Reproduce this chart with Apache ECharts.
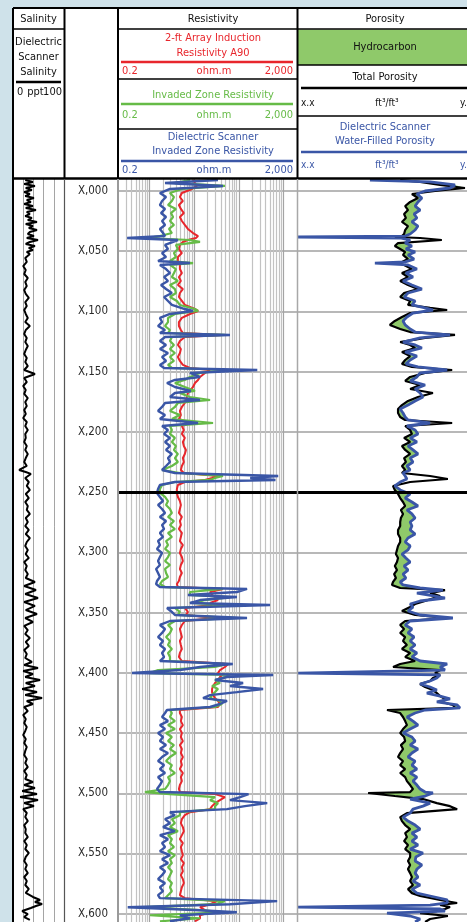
<!DOCTYPE html>
<html><head><meta charset="utf-8">
<script src="https://cdn.jsdelivr.net/npm/echarts@6/dist/echarts.min.js"></script>
<style>
html,body{margin:0;padding:0;background:#cfe2ea;overflow:hidden;}
#panel{position:absolute;left:13px;top:8px;width:454px;height:914px;background:#fff;}
#chart{position:absolute;left:0;top:0;width:467px;height:922px;}
</style></head><body>
<div id="panel"></div><div id="chart"></div>
<script>
const FONT = '"Liberation Sans Narrow","DejaVu Sans Condensed","Arial Narrow",sans-serif';

// ---------------- DATA ----------------
// Depth axis tick labels every 50 ft
const depthTickStep = 50;

// Resistivity track grid line values (log grid)
const resGridLines = [0.3,0.4,0.5,0.6,0.7,0.8,0.9,1,2,3,4,5,6,7,8,9,10,20,30,40,50,60,70,80,90,100,200,300,400,500,600,700,800,900,1000];

// Resistivity curves (ohm.m) sampled at resDepth (ft below X,000)
const resDepth = [-9.1,-6.6,-4.2,-1.7,1.7,5.0,8.3,11.6,14.9,18.3,
21.6,24.9,28.2,31.5,34.9,37.4,39.0,40.7,42.3,44.8,
48.2,51.5,54.8,58.1,59.8,61.4,64.8,68.1,71.4,74.7,
78.0,81.4,84.7,88.0,91.3,94.6,98.0,99.6,102.1,105.4,
108.8,112.1,115.4,117.9,119.5,121.2,124.5,127.8,131.2,134.5,
137.8,141.1,144.4,146.9,148.6,151.1,154.4,156.9,159.4,162.7,
166.0,167.7,171.0,173.5,176.0,179.3,182.6,186.0,189.3,192.6,
195.1,198.4,201.7,205.0,208.4,211.7,215.0,218.3,221.7,225.0,
228.3,231.6,234.1,236.6,238.3,239.9,241.6,244.1,247.4,250.7,
254.0,257.4,260.7,264.0,267.3,270.6,274.0,277.3,280.6,283.9,
287.2,290.6,293.9,297.2,300.5,303.9,307.2,310.5,313.8,317.1,
320.5,323.8,326.3,328.8,330.4,332.9,335.4,337.1,339.6,342.1,
343.7,346.2,349.5,352.0,354.5,357.0,360.3,363.6,366.9,370.3,
373.6,376.9,380.2,383.5,386.9,390.2,392.7,395.2,397.7,400.2,
401.8,403.5,406.0,408.5,411.0,413.5,416.0,418.5,421.0,423.4,
425.9,428.4,430.9,433.4,436.7,440.1,443.4,446.7,450.0,453.3,
456.7,460.0,463.3,466.6,469.9,473.3,476.6,479.9,483.2,486.6,
489.9,493.2,496.5,499.0,500.7,503.2,505.7,508.2,510.7,513.2,
515.7,518.2,521.5,524.8,528.1,531.5,534.8,538.1,541.4,544.7,
548.1,551.4,554.7,558.0,561.4,564.7,568.0,571.3,574.6,578.0,
581.3,584.6,587.1,589.6,592.1,594.6,597.1,598.8,601.3,603.8,
606.3];

const resDielectric = [34.3,2.25,44.4,2.9,1.73,2.37,1.93,1.73,2.25,1.83,
2.37,1.93,2.25,1.73,2.03,2.25,0.32,4.36,4.83,2.25,
2.62,1.93,2.37,1.57,8.1,1.73,2.37,2.9,2.14,2.62,
1.83,2.37,3.2,2.14,2.62,3.2,6.23,9.5,2.9,1.73,
1.93,1.57,2.25,1.73,63.6,2.25,1.73,2.37,1.73,2.62,
1.93,2.37,1.73,2.14,259,8.1,13.6,3.74,2.49,3.74,
8.5,3.74,2.9,13.6,2.25,1.93,1.57,2.25,1.73,12.3,
1.93,2.62,2.14,2.9,2.25,2.9,2.37,3.2,2.62,2.9,
2.37,1.93,3.74,760,180,660,3.74,1.73,1.57,1.49,
1.73,2.03,1.57,1.93,2.25,1.73,2.37,1.93,2.14,1.73,
2.03,1.57,1.73,1.49,1.93,1.73,1.57,1.73,1.42,1.57,
1.73,1.49,1.42,1.73,153,90.8,7.3,90.8,13.6,8.1,
500,2.49,3.2,3.74,153,2.9,1.73,2.25,1.93,1.57,
2.03,1.73,2.25,1.93,2.14,1.73,73.5,13.6,4.83,0.41,
585,54.6,29.5,125,63.6,350,90.8,22.8,15.9,54.6,
38,22.8,2.49,2.25,1.93,2.62,1.73,2.25,1.57,2.03,
1.73,2.37,1.73,2.62,1.93,1.57,2.14,1.73,2.25,1.57,
1.93,1.73,1.49,1.73,165,107,63.6,432,137,54.6,
2.9,3.74,2.25,2.9,2.03,3.74,1.73,2.62,1.93,2.25,
1.73,2.9,1.93,2.62,1.73,2.25,1.93,1.57,2.25,1.73,
2.03,1.57,1.73,720,63.6,0.33,13.6,90.8,4.83,8.1,
2.9];

const resInvaded = [8.1,3.74,49,5.35,2.9,3.56,3.2,2.62,3.94,3.05,
3.4,2.9,3.56,2.76,3.2,1.73,0.89,8.1,13.6,3.94,
4.36,3.56,3.94,2.9,9.5,2.9,3.94,3.56,3.2,4.36,
2.9,3.74,3.94,2.9,4.14,4.83,10.5,12.3,3.74,2.62,
2.62,2.25,2.9,2.62,49,3.2,2.9,3.56,2.9,3.74,
2.9,3.56,2.62,3.2,54.6,13.6,8.1,6.23,3.74,6.23,
10.5,4.83,8.1,22.8,4.36,3.74,2.9,4.83,3.2,26.6,
2.9,3.2,2.9,3.74,3.2,3.94,3.56,4.36,3.74,4.36,
3.2,1.93,4.83,44.4,29.5,22.8,3.74,1.93,1.73,1.73,
2.25,2.62,2.37,2.9,3.2,2.62,3.56,2.9,3.74,2.62,
3.2,2.37,2.62,2.25,2.9,2.62,2.25,2.9,2.25,2.37,
2.62,1.93,1.73,2.25,44.4,8.1,8.1,63.6,17.6,10.5,
63.6,3.74,4.83,4.36,90.8,3.74,2.62,3.2,2.9,2.37,
2.9,2.62,3.2,2.62,2.9,2.9,54.6,29.5,1.57,1.04,
63.6,49,29.5,38,25.3,34.3,29.5,25.3,22.8,38,
42,29.5,2.9,3.2,2.9,3.74,2.62,3.74,2.37,3.2,
2.62,3.56,2.9,3.94,2.9,2.37,3.2,2.9,3.74,2.62,
2.9,2.62,2.25,0.8,2.9,29.5,22.8,34.3,29.5,29.5,
4.83,4.83,3.2,3.74,2.9,4.36,2.62,3.2,2.9,3.56,
2.62,3.74,2.9,3.2,2.62,3.2,2.9,2.62,3.2,2.9,
3.2,2.62,2.25,49,29.5,0.8,13.6,49,1.04,13.6,
1.73];

const resA90 = [9.5,10.5,11.6,9.0,5.35,4.83,5.63,4.59,5.08,5.92,
4.83,5.35,6.23,7.3,9.5,12.3,11,7.3,5.63,4.83,
4.59,5.35,4.36,4.36,4.83,4.59,4.83,5.35,4.59,5.08,
4.36,5.63,4.83,4.59,5.35,6.23,10.5,12.3,8.1,5.35,
4.59,4.59,5.08,5.63,42,6.23,4.83,4.36,5.08,4.83,
4.36,4.83,5.63,8.1,22.8,17.6,13.6,12.3,10.5,9.5,
8.1,7.3,6.9,6.6,6.23,5.35,4.83,5.08,4.59,8.1,
5.35,5.92,5.35,6.23,5.63,5.92,6.6,6.23,5.63,5.92,
5.35,5.08,5.92,34.3,25.3,17.6,6.23,4.36,4.14,4.14,
4.36,4.83,5.08,4.83,4.59,5.35,4.83,5.08,4.59,5.35,
5.08,4.83,5.63,5.08,4.83,5.35,5.63,5.08,4.83,5.35,
4.83,4.59,4.14,4.36,44.4,22.8,25.3,29.5,34.3,22.8,
25.3,6.23,7.3,6.6,29.5,6.23,5.35,4.83,5.08,5.35,
4.83,5.08,5.35,4.83,4.59,5.35,57.5,49,38,34.3,
42,38,34.3,29.5,26.6,25.3,25.3,26.6,29.5,34.3,
38,34.3,4.83,4.83,5.35,5.08,5.63,4.83,5.35,5.08,
5.63,4.83,5.35,5.08,5.63,5.08,5.35,4.83,5.63,5.08,
5.35,4.83,4.59,4.83,29.5,49,38,29.5,25.3,22.8,
8.1,6.23,5.35,5.08,5.63,5.92,5.35,4.83,5.63,5.08,
5.35,5.63,5.08,5.92,5.35,5.63,5.08,5.63,5.92,5.35,
5.08,4.83,6.23,32.6,22.8,13.6,17.6,22.8,13.6,13.6,
10.5];

// Porosity curves (ft3/ft3) sampled at porDepth
const porDepth = [-9.1,-7.5,-5.0,-2.5,0,2.5,5.8,9.1,12.5,15.8,
19.1,22.4,25.7,29.1,32.4,35.7,37.4,38.2,39.0,40.7,
43.2,45.7,48.2,50.6,53.1,56.5,58.9,59.8,61.4,64.8,
68.1,71.4,74.7,78.0,81.4,84.7,88.0,91.3,94.6,97.1,
98.8,101.3,104.6,107.9,111.2,114.6,117.1,119.5,122.0,125.4,
127.8,130.3,133.7,137.0,140.3,143.6,146.1,148.6,151.1,154.4,
157.7,161.1,164.4,167.7,171.0,174.3,177.7,181.0,184.3,187.6,
190.1,192.6,195.1,198.4,201.7,205.0,208.4,211.7,215.0,218.3,
221.7,225.0,228.3,231.6,234.1,236.6,239.1,241.6,244.9,248.2,
251.5,254.9,258.2,261.5,264.8,268.1,271.5,274.8,278.1,281.4,
284.8,288.1,291.4,294.7,298.0,301.4,304.7,308.0,311.3,314.7,
318.0,321.3,324.6,327.1,329.6,331.3,333.8,336.3,337.9,340.4,
342.9,345.4,348.7,352.0,354.5,357.0,360.3,363.6,366.9,370.3,
373.6,376.9,380.2,383.5,386.9,390.2,392.7,395.2,397.7,400.2,
401.8,404.3,406.8,409.3,411.8,414.3,416.8,419.3,421.7,424.2,
426.7,429.2,430.9,433.4,436.7,440.1,443.4,446.7,450.0,453.3,
456.7,460.0,463.3,466.6,469.9,473.3,476.6,479.9,483.2,486.6,
489.9,493.2,496.5,499.0,499.8,502.3,504.8,508.2,510.7,513.2,
516.5,519.8,523.1,526.4,529.8,533.1,536.4,539.7,543.0,546.4,
549.7,553.0,556.3,559.6,563.0,566.3,569.6,572.9,576.2,579.6,
582.9,585.3,588.6,591.1,592.8,594.5,596.1,597.8,599.5,601.9,
604.4,606.9];

const porWater = [0.298,0.129,0.059,0.073,0.143,0.166,0.152,0.163,0.171,0.157,
0.174,0.166,0.180,0.163,0.171,0.185,0.199,0.500,0.213,0.185,
0.199,0.180,0.197,0.171,0.191,0.174,0.199,0.284,0.191,0.166,
0.197,0.177,0.205,0.180,0.152,0.191,0.202,0.171,0.180,0.143,
0.121,0.177,0.194,0.205,0.199,0.185,0.171,0.073,0.157,0.205,
0.171,0.152,0.199,0.166,0.185,0.197,0.163,0.081,0.157,0.166,
0.185,0.143,0.171,0.157,0.149,0.171,0.191,0.213,0.205,0.199,
0.191,0.129,0.194,0.171,0.163,0.185,0.166,0.191,0.177,0.163,
0.185,0.177,0.194,0.185,0.205,0.199,0.194,0.213,0.228,0.213,
0.185,0.199,0.180,0.163,0.194,0.180,0.171,0.185,0.180,0.185,
0.171,0.191,0.199,0.185,0.191,0.208,0.197,0.185,0.202,0.191,
0.205,0.197,0.213,0.205,0.157,0.093,0.166,0.115,0.087,0.157,
0.185,0.177,0.191,0.157,0.065,0.185,0.199,0.180,0.191,0.174,
0.185,0.171,0.185,0.166,0.180,0.157,0.081,0.101,0.087,0.500,
0.101,0.110,0.129,0.157,0.129,0.110,0.138,0.101,0.073,0.110,
0.053,0.045,0.143,0.171,0.194,0.177,0.163,0.185,0.205,0.180,
0.171,0.185,0.163,0.180,0.191,0.171,0.180,0.166,0.185,0.166,
0.177,0.166,0.157,0.143,0.121,0.143,0.185,0.129,0.149,0.177,
0.185,0.205,0.191,0.171,0.157,0.180,0.166,0.180,0.163,0.185,
0.149,0.169,0.171,0.152,0.166,0.171,0.163,0.177,0.157,0.180,
0.166,0.129,0.081,0.081,0.129,0.500,0.101,0.087,0.250,0.185,
0.157,0.171];

const porTotal = [0.213,0.157,0.101,0.031,0.115,0.180,0.163,0.185,0.199,0.191,
0.202,0.197,0.208,0.191,0.199,0.202,0.208,0.228,0.157,0.096,
0.219,0.228,0.213,0.199,0.205,0.191,0.208,0.219,0.202,0.180,
0.208,0.191,0.213,0.191,0.163,0.202,0.213,0.185,0.191,0.129,
0.081,0.185,0.208,0.228,0.242,0.213,0.185,0.059,0.143,0.213,
0.185,0.171,0.208,0.185,0.199,0.208,0.180,0.067,0.143,0.185,
0.199,0.157,0.185,0.121,0.163,0.191,0.208,0.219,0.219,0.213,
0.199,0.067,0.199,0.185,0.180,0.202,0.185,0.208,0.199,0.185,
0.202,0.197,0.208,0.199,0.208,0.129,0.079,0.185,0.233,0.228,
0.219,0.213,0.205,0.199,0.211,0.205,0.211,0.213,0.213,0.219,
0.219,0.213,0.213,0.219,0.222,0.225,0.219,0.222,0.228,0.222,
0.230,0.225,0.233,0.236,0.213,0.087,0.129,0.101,0.101,0.143,
0.171,0.185,0.208,0.171,0.081,0.199,0.213,0.202,0.213,0.199,
0.205,0.194,0.208,0.185,0.199,0.171,0.213,0.233,0.101,0.115,
0.101,0.121,0.129,0.157,0.143,0.121,0.110,0.101,0.087,0.096,
0.065,0.059,0.250,0.213,0.205,0.199,0.194,0.205,0.213,0.202,
0.199,0.211,0.205,0.213,0.219,0.205,0.213,0.199,0.213,0.199,
0.194,0.185,0.177,0.185,0.303,0.228,0.149,0.110,0.073,0.053,
0.194,0.213,0.208,0.199,0.185,0.199,0.194,0.202,0.191,0.199,
0.185,0.185,0.191,0.185,0.191,0.185,0.180,0.185,0.177,0.191,
0.180,0.157,0.101,0.053,0.101,0.073,0.087,0.110,0.157,0.079,
0.129,0.143];

// Dielectric scanner salinity (ppt) sampled at salDepth
const salDepth = [-9.1,-7.5,-5.8,-4.2,-2.5,-0.8,0.8,2.5,4.2,5.8,
7.5,9.1,10.8,12.5,14.1,15.8,17.4,19.1,20.8,22.4,
24.1,25.7,27.4,29.1,30.7,32.4,34.0,35.7,37.4,39.0,
40.7,42.3,44.0,45.7,47.3,49.0,50.6,52.3,55.6,58.9,
62.3,65.6,68.9,72.2,75.5,78.9,82.2,85.5,88.8,92.2,
95.5,98.8,102.1,105.4,108.8,112.1,115.4,118.7,122.0,125.4,
128.7,132.0,135.3,138.6,142.0,145.3,148.6,151.9,155.2,158.6,
161.9,165.2,168.5,171.9,175.2,178.5,181.8,185.1,188.5,191.8,
195.1,198.4,201.7,205.0,208.4,211.7,215.0,218.3,221.7,225.0,
228.3,231.6,233.3,234.9,238.3,241.6,244.9,248.2,251.5,254.9,
258.2,261.5,264.8,268.1,271.5,274.8,278.1,281.4,284.8,288.1,
291.4,294.7,298.0,301.4,304.7,308.0,311.3,314.7,318.0,321.3,
324.6,327.9,331.3,334.6,337.9,341.2,344.5,347.9,351.2,354.5,
357.8,361.1,364.5,367.8,371.1,374.4,377.7,381.1,384.4,387.7,
391.0,393.5,396.0,398.5,401.0,403.5,406.0,408.5,411.0,413.5,
416.0,418.5,421.0,423.4,425.9,428.4,431.8,435.1,438.4,441.7,
445.0,448.3,451.6,455.0,458.3,461.6,464.9,468.2,471.6,474.9,
478.2,481.5,484.8,488.2,490.7,493.2,495.6,498.1,500.6,503.1,
505.6,508.1,510.6,513.1,516.4,519.7,523.1,526.4,529.7,533.0,
536.3,539.7,543.0,546.3,549.6,552.9,556.3,559.6,562.9,566.2,
569.5,572.9,576.2,579.5,582.8,586.1,588.6,590.3,591.9,593.6,
595.3,597.8,600.3,602.8,605.2];

const salinity = [24,39,22,43,25,37,22,33,24,41,
27,35,22,39,25,45,27,33,24,37,
29,47,25,39,31,47,33,29,41,27,
49,33,25,43,31,39,27,33,24,27,
20,25,22,29,24,27,22,25,31,24,
27,22,25,29,24,33,25,22,27,24,
29,25,22,27,24,29,22,43,22,27,
20,25,22,29,24,27,22,25,20,27,
24,29,24,25,22,27,24,29,25,22,
27,12,25,35,24,31,27,33,25,31,
24,29,27,33,25,29,24,31,25,33,
27,24,29,25,31,22,27,24,29,25,
43,22,45,24,49,22,43,25,47,24,
39,22,29,24,33,25,31,22,27,24,
37,22,49,20,39,24,53,25,43,18,
47,24,57,27,39,22,29,20,25,22,
27,24,20,25,22,27,24,22,27,24,
29,22,27,24,39,22,43,18,47,14,
49,22,41,20,27,24,29,22,25,24,
29,22,27,24,31,25,22,27,24,29,
22,27,24,31,25,39,53,43,57,45,
35,18,29,22,33];

// ---------------- CHART ----------------
const C_RED = '#e8262c', C_GREEN = '#66bb47', C_BLUE = '#3a56a6', C_FILL = '#8fc96a';
const PX_PER_FT = 1.2045;
const Y_MIN = -50, Y_MAX = 650;
const gridTop = 191 + Y_MIN * PX_PER_FT;
const gridH = (Y_MAX - Y_MIN) * PX_PER_FT;

function pairs(xs, ys){ return ys.map((d, i) => [xs[i], d]); }

function yAx(i, showLabels){
  return {
    gridIndex: i, type: 'value', inverse: true, min: Y_MIN, max: Y_MAX, interval: depthTickStep,
    axisLine: {show: false}, axisTick: {show: false},
    axisLabel: showLabels ? {
      show: true, margin: 10, fontSize: 11.5, color: '#2a2a2a', fontFamily: FONT,
      formatter: v => (v < 0 || v > 600) ? '' : 'X,' + String(v).padStart(3, '0')
    } : {show: false},
    splitLine: i === 0 ? {show: false} : {show: true, lineStyle: {color: '#a0a0a0', width: 1.5}}
  };
}

const G = [];
function rect(x, y, w, h, fill){ G.push({type: 'rect', shape: {x, y, width: w, height: h}, style: {fill}, z: 100, silent: true}); }
function ln(x1, y1, x2, y2, stroke, w, z){ G.push({type: 'line', shape: {x1, y1, x2, y2}, style: {stroke, lineWidth: w}, z: z || 102, silent: true}); }
function tx(x, y, t, color, size, align){
  G.push({type: 'text', x, y, z: 103, silent: true,
    style: {text: t, fill: color, font: size + 'px ' + FONT, align: align || 'center', verticalAlign: 'middle',
            textAlign: align || 'center', textVerticalAlign: 'middle'}});
}

// header background (covers grid overflow)
rect(13, 8, 463, 171, '#ffffff');
rect(298, 29.5, 178, 35.5, C_FILL);
// header frame
ln(13, 8, 476, 8, '#000', 2);
ln(13, 178.5, 476, 178.5, '#000', 2.5);
ln(13, 8, 13, 922, '#000', 2);
ln(64.5, 8, 64.5, 179, '#000', 2);
ln(118, 8, 118, 179, '#000', 2);
ln(297.5, 8, 297.5, 179, '#000', 2);
// data-area track borders
ln(64.5, 179, 64.5, 922, '#555', 1.2);
ln(118, 179, 118, 922, '#9a9a9a', 2);
ln(297.5, 179, 297.5, 922, '#a8a8a8', 1.5);
// header row separators
ln(13, 29, 64.5, 29, '#000', 1.5);
ln(118, 29, 297.5, 29, '#000', 1.5);
ln(118, 79, 297.5, 79, '#000', 1.5);
ln(118, 129, 297.5, 129, '#000', 1.5);
ln(297.5, 29, 476, 29, '#000', 1.5);
ln(297.5, 65, 476, 65, '#000', 1.5);
ln(297.5, 116, 476, 116, '#000', 1.5);
// curve legend lines
ln(16, 82, 61, 82, '#000', 2.5);
ln(121, 62, 293, 62, C_RED, 2.5);
ln(121, 104, 293, 104, C_GREEN, 2.5);
ln(121, 161, 293, 161, C_BLUE, 2.5);
ln(301, 88, 476, 88, '#000', 2.5);
ln(301, 152, 476, 152, C_BLUE, 2.5);
// header texts
tx(38.5, 19, 'Salinity', '#111', 11);
tx(38.5, 42, 'Dielectric', '#111', 11);
tx(38.5, 57, 'Scanner', '#111', 11);
tx(38.5, 72, 'Salinity', '#111', 11);
tx(17, 92, '0', '#111', 11, 'left');
tx(35.5, 92, 'ppt', '#111', 11);
tx(62, 92, '100', '#111', 11, 'right');

tx(213, 19, 'Resistivity', '#111', 11);
tx(213, 38, '2-ft Array Induction', C_RED, 11);
tx(213, 53, 'Resistivity A90', C_RED, 11);
tx(122, 71, '0.2', C_RED, 11, 'left'); tx(214, 71, 'ohm.m', C_RED, 11); tx(293, 71, '2,000', C_RED, 11, 'right');
tx(213, 95, 'Invaded Zone Resistivity', C_GREEN, 11);
tx(122, 115, '0.2', C_GREEN, 11, 'left'); tx(214, 115, 'ohm.m', C_GREEN, 11); tx(293, 115, '2,000', C_GREEN, 11, 'right');
tx(213, 137, 'Dielectric Scanner', C_BLUE, 11);
tx(213, 151, 'Invaded Zone Resistivity', C_BLUE, 11);
tx(122, 170, '0.2', C_BLUE, 11, 'left'); tx(214, 170, 'ohm.m', C_BLUE, 11); tx(293, 170, '2,000', C_BLUE, 11, 'right');

tx(385, 19, 'Porosity', '#111', 11);
tx(385, 47, 'Hydrocarbon', '#111', 11);
tx(385, 77, 'Total Porosity', '#111', 11);
tx(301, 103, 'x.x', '#111', 10, 'left'); tx(387, 103, 'ft\u00B3/ft\u00B3', '#111', 10); tx(460, 103, 'y.y', '#111', 10, 'left');
tx(385, 127, 'Dielectric Scanner', C_BLUE, 11);
tx(385, 141, 'Water-Filled Porosity', C_BLUE, 11);
tx(301, 165, 'x.x', C_BLUE, 10, 'left'); tx(387, 165, 'ft\u00B3/ft\u00B3', C_BLUE, 10); tx(460, 165, 'y.y', C_BLUE, 10, 'left');

const noAx = {axisLine: {show: false}, axisTick: {show: false}, axisLabel: {show: false}, splitLine: {show: false}};

const option = {
  backgroundColor: 'transparent',
  animation: false,
  grid: [
    {left: 13, top: gridTop, width: 51, height: gridH, containLabel: false, outerBoundsMode: 'none'},
    {left: 118, top: gridTop, width: 179, height: gridH, containLabel: false, outerBoundsMode: 'none'},
    {left: 298, top: gridTop, width: 178, height: gridH, containLabel: false, outerBoundsMode: 'none'}
  ],
  xAxis: [
    Object.assign({gridIndex: 0, type: 'value', min: 0, max: 100, interval: 20}, noAx,
      {splitLine: {show: true, lineStyle: {color: '#a5a5a5', width: 1}}}),
    Object.assign({gridIndex: 1, type: 'log', logBase: 10, min: 0.2, max: 2000}, noAx),
    Object.assign({gridIndex: 2, type: 'value', min: 0, max: 0.5, inverse: true}, noAx)
  ],
  yAxis: [yAx(0, false), yAx(1, true), yAx(2, false)],
  graphic: {elements: G},
  series: [
    { // log grid of resistivity track
      type: 'line', xAxisIndex: 1, yAxisIndex: 1, data: [], silent: true, z: 1,
      markLine: {silent: true, symbol: ['none', 'none'], label: {show: false}, animation: false, z: 1,
        data: resGridLines.map(v => ({xAxis: v, lineStyle: {type: 'solid', width: 1.2,
          color: [1, 10, 100, 1000].indexOf(v) >= 0 ? '#a4a4a4' : '#c2c2c2'}}))}
    },
    {
      type: 'line', xAxisIndex: 1, yAxisIndex: 1, data: pairs(resA90, resDepth), z: 3,
      showSymbol: false, symbol: 'none', lineStyle: {color: C_RED, width: 2}, silent: true,
      markLine: {silent: true, symbol: ['none', 'none'], label: {show: false}, z: 10,
        data: [{yAxis: 250, lineStyle: {type: 'solid', color: '#000', width: 3}}]}
    },
    {
      type: 'line', xAxisIndex: 1, yAxisIndex: 1, data: pairs(resInvaded, resDepth), z: 4,
      showSymbol: false, symbol: 'none', lineStyle: {color: C_GREEN, width: 2.2}, silent: true
    },
    {
      type: 'line', xAxisIndex: 1, yAxisIndex: 1, data: pairs(resDielectric, resDepth), z: 5,
      showSymbol: false, symbol: 'none', lineStyle: {color: C_BLUE, width: 2.4}, silent: true
    },
    { // hydrocarbon fill between total porosity and water-filled porosity
      type: 'custom', xAxisIndex: 2, yAxisIndex: 2, z: 2, silent: true, data: [[0.2, 0]],
      renderItem: function (params, api) {
        const left = [], right = [];
        for (let i = 0; i < porDepth.length; i++) {
          const pk = api.coord([porTotal[i], porDepth[i]]);
          const pw = api.coord([porWater[i], porDepth[i]]);
          left.push([pk[0], pk[1]]);
          right.push([Math.max(pk[0], pw[0]), pw[1]]);
        }
        return {type: 'polygon', shape: {points: left.concat(right.reverse())}, style: {fill: C_FILL}};
      }
    },
    {
      type: 'line', xAxisIndex: 2, yAxisIndex: 2, data: pairs(porTotal, porDepth), z: 3,
      showSymbol: false, symbol: 'none', lineStyle: {color: '#000', width: 2.2}, silent: true,
      markLine: {silent: true, symbol: ['none', 'none'], label: {show: false}, z: 10,
        data: [{yAxis: 250, lineStyle: {type: 'solid', color: '#000', width: 3}}]}
    },
    {
      type: 'line', xAxisIndex: 2, yAxisIndex: 2, data: pairs(porWater, porDepth), z: 4,
      showSymbol: false, symbol: 'none', lineStyle: {color: C_BLUE, width: 2.8}, silent: true
    },
    {
      type: 'line', xAxisIndex: 0, yAxisIndex: 0, data: pairs(salinity, salDepth), z: 3,
      showSymbol: false, symbol: 'none', lineStyle: {color: '#000', width: 2}, silent: true
    }
  ]
};

const chart = echarts.init(document.getElementById('chart'), null, {renderer: 'canvas', width: 467, height: 922});
chart.setOption(option);
</script>
</body></html>
